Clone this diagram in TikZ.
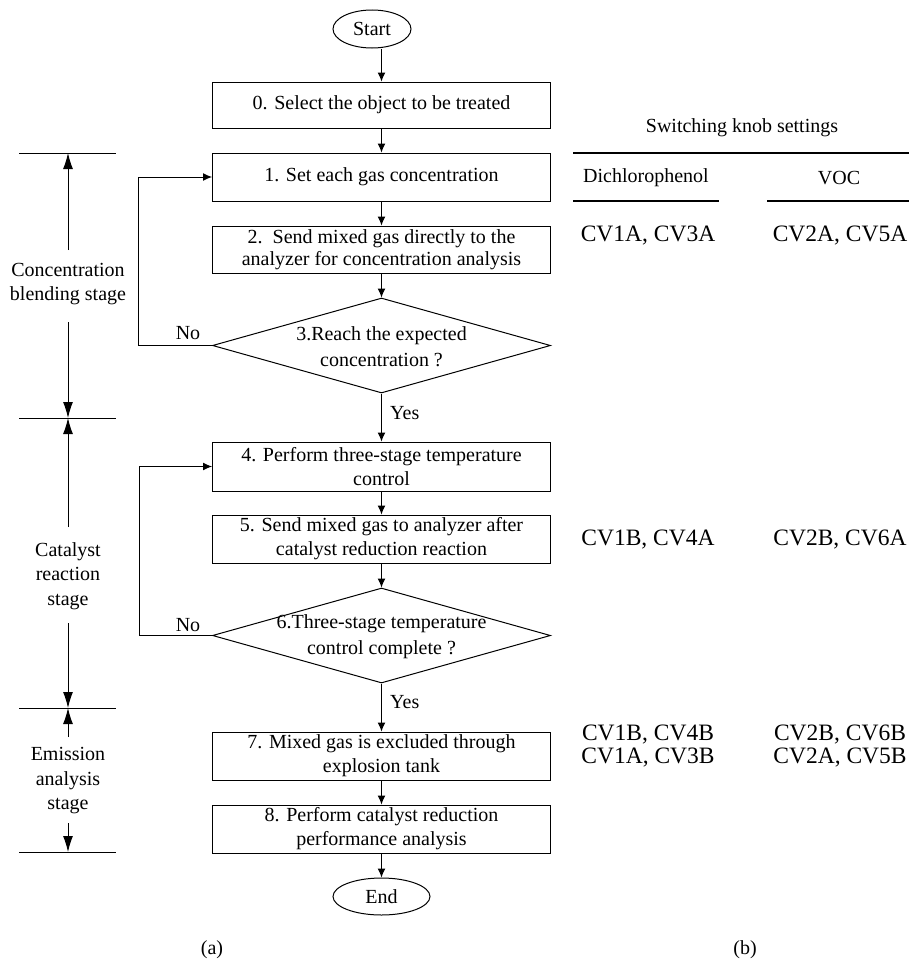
\documentclass[tikz,border=0pt]{standalone}
\usepackage{fontspec}
\setmainfont{Liberation Serif}
\usetikzlibrary{shapes.geometric,arrows.meta,calc}
\begin{document}
\begin{tikzpicture}[x=1pt,y=-1pt,
  every node/.style={font=\fontsize{20}{24}\selectfont, inner sep=0pt, text=black},
  box/.style={draw, line width=1pt, minimum width=338pt, minimum height=47pt, align=center},
  term/.style={draw, ellipse, line width=1pt},
  dia/.style={draw, diamond, line width=1pt, minimum width=338pt, minimum height=95pt, aspect=3.56},
  dtext/.style={align=center, font=\fontsize{20}{25.5}\selectfont},
  stagelbl/.style={align=center, font=\fontsize{20}{24.5}\selectfont},
  arr/.style={line width=1pt, -{Latex[length=9pt,width=8pt]}},
  barr/.style={line width=1pt, -{Latex[length=16pt,width=10pt]}},
  mline/.style={line width=1pt},
  trule/.style={line width=1.2pt},
  cv/.style={font=\fontsize{23.5}{26}\selectfont}
]
\fill[white] (0,0) rectangle (909,969);
\useasboundingbox (0,0) rectangle (909,969);

% ---------- flowchart ----------
\node[term, minimum width=78pt, minimum height=38pt] (start) at (372,29) {Start};
\node[box, minimum height=46pt] (b0) at (381.5,105) {0. Select the object to be treated};
\node[box, minimum height=48pt] (b1) at (381.5,177) {1. Set each gas concentration};
\node[box, minimum height=47pt, font=\fontsize{20}{22}\selectfont] (b2) at (381.5,249.5) {2.\ \ Send mixed gas directly to the\\analyzer for concentration analysis};
\node[dia] (d3) at (381.5,345.5) {};
\node[dtext] (d3t) at (381.5,346.5) {3.Reach the expected\\concentration ?};
\node[box, minimum height=49pt] (b4) at (381.5,466.5) {4. Perform three-stage temperature\\control};
\node[box, minimum height=48pt] (b5) at (381.5,539) {5. Send mixed gas to analyzer after\\catalyst reduction reaction};
\node[dia] (d6) at (381.5,635.5) {};
\node[dtext] (d6t) at (381.5,636.5) {6.Three-stage temperature\\control complete ?};
\node[box, minimum height=48pt] (b7) at (381.5,756) {7. Mixed gas is excluded through\\explosion tank};
\node[box, minimum height=48pt] (b8) at (381.5,829) {8. Perform catalyst reduction\\performance analysis};
\node[term, minimum width=97pt, minimum height=37pt] (end) at (381.5,896.5) {End};

\draw[arr] (start.south -| b0.north) -- (b0.north);
\draw[arr] (b0) -- (b1);
\draw[arr] (b1) -- (b2);
\draw[arr] (b2) -- (d3);
\draw[arr] (d3) -- (b4);
\draw[arr] (b4) -- (b5);
\draw[arr] (b5) -- (d6);
\draw[arr] (d6) -- (b7);
\draw[arr] (b7) -- (b8);
\draw[arr] (b8) -- (end);
\draw[arr] (d3.west) -- ++(-74,0) |- (b1.west);
\draw[arr] (d6.west) -- ++(-73,0) |- (b4.west);

\node[anchor=west] (yes1) at (390,413) {Yes};
\node[anchor=west] (yes2) at (390,702) {Yes};
\node (no1) at (188,333) {No};
\node (no2) at (188,625) {No};

% ---------- stage markers ----------
\draw[mline] (19,153) -- (116,153);
\draw[mline] (19,418) -- (116,418);
\draw[mline] (19,708) -- (116,708);
\draw[mline] (19,852) -- (116,852);
\coordinate (m1) at (68,153);
\coordinate (m2) at (68,418);
\coordinate (m3) at (68,708);
\coordinate (m4) at (68,852);

\node[stagelbl] (s1) at (68,284) {Concentration\\blending stage};
\node[stagelbl] (s2) at (68,576) {Catalyst\\reaction\\stage};
\node[stagelbl] (s3) at (68,781) {Emission\\analysis\\stage};

\draw[barr] ($(s1)+(0,-34)$) -- (m1);
\draw[barr] ($(s1)+(0,38)$) -- (m2);
\draw[barr] ($(s2)+(0,-49)$) -- (m2);
\draw[barr] ($(s2)+(0,47)$) -- (m3);
\draw[barr] ($(s3)+(0,-44)$) -- (m3);
\draw[barr] ($(s3)+(0,42)$) -- (m4);

% ---------- switching table ----------
\node (hdr) at (742,128) {Switching knob settings};
\draw[trule] (573,153) -- (909,153);
\node (c1) at (646,178) {Dichlorophenol};
\node (c2) at (839,178) {VOC};
\draw[trule] (573,201) -- (719,201);
\draw[trule] (767,201) -- (909,201);

\node[cv] (r1a) at (648,236) {CV1A, CV3A};
\node[cv] (r1b) at (840,236) {CV2A, CV5A};
\node[cv] (r2a) at (648,540) {CV1B, CV4A};
\node[cv] (r2b) at (840,540) {CV2B, CV6A};
\node[cv] (r3a) at (648,735) {CV1B, CV4B};
\node[cv] (r3b) at (840,735) {CV2B, CV6B};
\node[cv] (r4a) at (648,758) {CV1A, CV3B};
\node[cv] (r4b) at (840,758) {CV2A, CV5B};

% ---------- captions ----------
\node (capa) at (212,950) {(a)};
\node (capb) at (745,950) {(b)};
\end{tikzpicture}
\end{document}
